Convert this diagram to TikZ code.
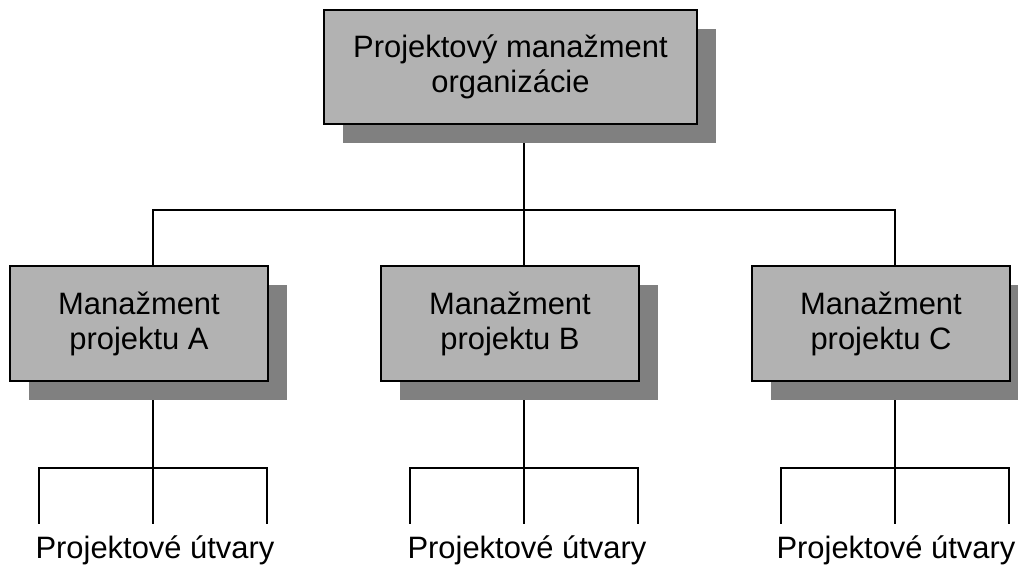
\documentclass[tikz,border=0pt]{standalone}
\usepackage{fontspec}
\setmainfont{Liberation Sans}
\usetikzlibrary{calc,shadows,backgrounds,positioning}

\begin{document}
\begin{tikzpicture}[x=0.02cm,y=0.02cm,
    box/.style={draw,line width=1.1pt,fill=black!30,align=center,
      font=\fontsize{17.6}{19.9}\selectfont,inner sep=0pt,
      minimum width=5.16cm,minimum height=2.3cm,
      drop shadow={shadow xshift=0.38cm,shadow yshift=-0.39cm,fill=black!50,opacity=1}},
    wire/.style={line width=1.1pt},
    units/.style={font=\fontsize{17.6}{19.9}\selectfont,anchor=base,inner sep=0pt}]
  \useasboundingbox (0,0) rectangle (1018,570);
  \node[box,minimum width=7.46cm,minimum height=2.28cm] (org) at (510.5,503) {Projektový manažment\\organizácie};
  \node[box] (pa) at (139,246.5) {Manažment\\projektu A};
  \node[box] (pb) at (510,246.5) {Manažment\\projektu B};
  \node[box] (pc) at (881,246.5) {Manažment\\projektu C};
  \coordinate (bus) at ($(org.south)+(13.5,-85)$);
  \begin{scope}[on background layer]
    \draw[wire] ($(org.south)+(13.5,0)$) -- (bus);
    \foreach \p in {pa,pb,pc}{
      \draw[wire] ($(\p.north)+(14,0)$) |- (bus);
      \coordinate (\p-fork) at ($(\p.south)+(14,-86)$);
      \coordinate (\p-l) at ($(\p-fork)+(-114,-56)$);
      \coordinate (\p-m) at ($(\p-fork)+(0,-56)$);
      \coordinate (\p-r) at ($(\p-fork)+(114,-56)$);
      \draw[wire] ($(\p.south)+(14,0)$) -- (\p-m);
      \draw[wire] (\p-l) |- (\p-fork) -| (\p-r);
    }
  \end{scope}
  \node[units] (pa-units) at ($(pa.south)+(16,-177)$) {Projektové útvary};
  \node[units] (pb-units) at ($(pb.south)+(17,-177)$) {Projektové útvary};
  \node[units] (pc-units) at ($(pc.south)+(15,-177)$) {Projektové útvary};
\end{tikzpicture}
\end{document}
